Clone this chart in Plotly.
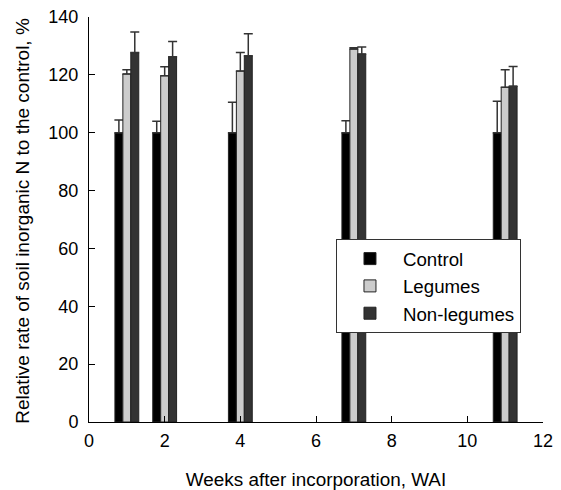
import plotly.graph_objects as go

weeks = [1, 2, 4, 7, 11]
control = [100, 100, 100, 100, 100]
control_err = [4.4, 4.0, 10.5, 4.1, 10.9]
legumes = [120.3, 119.7, 121.3, 128.9, 115.7]
legumes_err = [1.5, 3.1, 6.4, 0.5, 6.1]
nonlegumes = [127.7, 126.3, 126.6, 127.2, 116.1]
nonlegumes_err = [7.1, 5.2, 7.6, 2.4, 6.8]

series = [
    ("Control", control, control_err, "#000000"),
    ("Legumes", legumes, legumes_err, "#cccccc"),
    ("Non-legumes", nonlegumes, nonlegumes_err, "#333333"),
]

fig = go.Figure()
for name, vals, errs, col in series:
    fig.add_trace(go.Bar(
        x=weeks, y=vals, name=name,
        marker=dict(color=col, line=dict(color="#222222", width=1)),
        error_y=dict(type="data", array=errs, arrayminus=[0] * len(errs),
                     symmetric=False, color="#333333", thickness=1.5, width=4.5),
    ))

font = "Liberation Sans, Arial, sans-serif"
# page body has an 8px margin, so the figure is sized to fit the 561x490 window
fig.update_layout(
    width=553, height=482,
    margin=dict(l=81, r=18, t=9, b=68),
    paper_bgcolor="white", plot_bgcolor="white",
    barmode="group", bargap=0.37, bargroupgap=0,
    font=dict(family=font, size=18, color="black"),
    showlegend=True,
    legend=dict(x=0.544, y=0.452, xanchor="left", yanchor="top",
                bordercolor="#333333", borderwidth=1, bgcolor="white",
                font=dict(size=18.7), tracegroupgap=0,
                itemwidth=56),
    xaxis=dict(range=[0, 12], dtick=2, tick0=0, showline=True, linecolor="black",
               linewidth=1, ticks="inside", ticklen=6, tickcolor="black",
               showgrid=False, zeroline=False, automargin=False,
               tickfont=dict(size=18), ticklabelstandoff=2, ticklabeloverflow="allow",
               title=dict(text="Weeks after incorporation, WAI", font=dict(size=18.9), standoff=24)),
    yaxis=dict(range=[0, 140], dtick=20, tick0=0, showline=True, linecolor="black",
               linewidth=1, ticks="inside", ticklen=6, tickcolor="black",
               showgrid=False, zeroline=False, automargin=False,
               tickfont=dict(size=18), ticklabelstandoff=6, ticklabeloverflow="allow"),
    annotations=[dict(text="Relative rate of soil inorganic N to the control, %",
                      xref="paper", yref="paper", x=0, y=0.497, xanchor="center",
                      yanchor="middle", xshift=-66, textangle=-90, showarrow=False,
                      font=dict(size=19))],
)

fig.write_html("out.html")
